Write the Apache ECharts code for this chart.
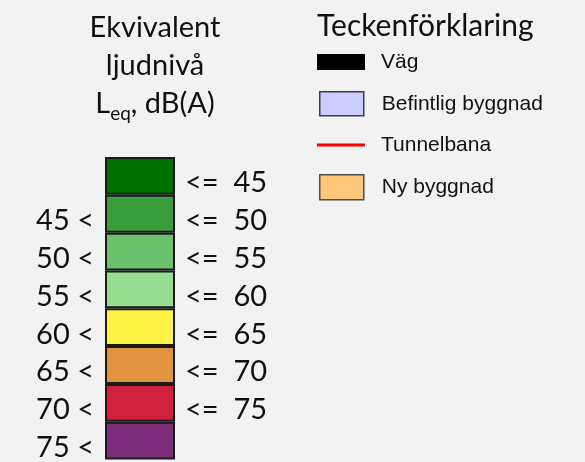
<!DOCTYPE html>
<html><head><meta charset="utf-8">
<script src="https://cdn.jsdelivr.net/npm/echarts@6/dist/echarts.min.js"></script>
<style>html,body{margin:0;padding:0;background:#f2f2f2}#c{width:585px;height:462px}</style>
</head><body><div id="c"></div>
<script>
// ---- data ----
const bands = ['<=45', '45-50', '50-55', '55-60', '60-65', '65-70', '70-75', '>75'];
const lowerBounds = [null, 45, 50, 55, 60, 65, 70, 75];
const upperBounds = [45, 50, 55, 60, 65, 70, 75, null];
const bandValues = [1, 1, 1, 1, 1, 1, 1, 1];
const bandColors = ['#007000', '#3a9c3a', '#6cc16c', '#96dc93', '#fff245', '#e09341', '#cf203c', '#7b2c78'];
const legendNames = ['Väg', 'Befintlig byggnad', 'Tunnelbana', 'Ny byggnad'];
const legendColors = ['#000000', '#ccccff', '#ff0000', '#ffc77a'];
const titleText = 'Ekvivalent\nljudnivå\n{a|L}{s|eq}{a|, dB(A)}';
const legendTitle = 'Teckenförklaring';

const FONT = 'Lato';
const chart = echarts.init(document.getElementById('c'), null, {renderer: 'canvas'});

const legendLayout = [
  {left: 317, top: 51.5, w: 48, h: 16, border: null},
  {left: 319, top: 91, w: 44, h: 24, border: '#3c3c4c'},
  {left: 317, top: 134.5, w: 48, h: 3, border: null},
  {left: 319, top: 174, w: 44, h: 25, border: '#4c4c4c'}
];

const legends = legendNames.map((n, i) => {
  const L = legendLayout[i];
  return {
    data: [{name: n, icon: 'rect'}],
    left: L.left, top: L.top, padding: 0,
    itemWidth: L.w, itemHeight: L.h,
    selectedMode: false,
    itemStyle: {color: legendColors[i], opacity: 1, borderColor: L.border || legendColors[i], borderWidth: L.border ? 1.5 : 0},
    textStyle: {fontFamily: 'Liberation Sans', fontSize: 21, color: '#111',
      padding: [0, 0, 0, 381 - L.left - L.w - 5]}
  };
});

const labelStyle = {interval: 0, fontFamily: FONT, fontSize: 29, color: '#111', verticalAlign: 'top', lineHeight: 14};

const option = {
  animation: false,
  backgroundColor: '#f2f2f2',
  title: [
    {text: titleText, left: 155, top: 9, padding: 0, textAlign: 'center',
      textStyle: {fontFamily: FONT, fontSize: 29, fontWeight: 'normal', color: '#111', lineHeight: 38,
        rich: {a: {fontFamily: FONT, fontSize: 29, color: '#111', lineHeight: 38},
               s: {fontFamily: FONT, fontSize: 19, color: '#111', lineHeight: 21, verticalAlign: 'bottom'}}}},
    {text: legendTitle, left: 317, top: 7, padding: 0,
      textStyle: {fontFamily: FONT, fontSize: 30, fontWeight: 'normal', color: '#111', lineHeight: 38}}
  ],
  legend: legends,
  grid: {left: 105, right: 410, top: 157, height: 305, containLabel: false},
  xAxis: {type: 'value', min: 0, max: 1, show: false},
  yAxis: [
    {type: 'category', data: bands, inverse: true, position: 'left',
      axisLine: {show: false}, axisTick: {show: false}, splitLine: {show: false},
      axisLabel: Object.assign({margin: 11,
        formatter: (v, i) => lowerBounds[i] == null ? '' : lowerBounds[i] + ' <'}, labelStyle)},
    {type: 'category', data: bands, inverse: true, position: 'right',
      axisLine: {show: false}, axisTick: {show: false}, splitLine: {show: false},
      axisLabel: Object.assign({margin: 10,
        formatter: (v, i) => upperBounds[i] == null ? '' : '<=  ' + upperBounds[i]}, labelStyle)}
  ],
  series: [
    {type: 'bar', yAxisIndex: 0, barCategoryGap: '0%', silent: true,
      itemStyle: {borderColor: '#1a1a1a', borderWidth: 2},
      data: bandValues.map((v, i) => ({value: v, itemStyle: {color: bandColors[i]}}))}
  ].concat(legendNames.map((n, i) => ({
    type: 'scatter', name: n, data: [], yAxisIndex: 0,
    itemStyle: {color: legendColors[i], opacity: 1}
  })))
};
chart.setOption(option);
</script></body></html>
